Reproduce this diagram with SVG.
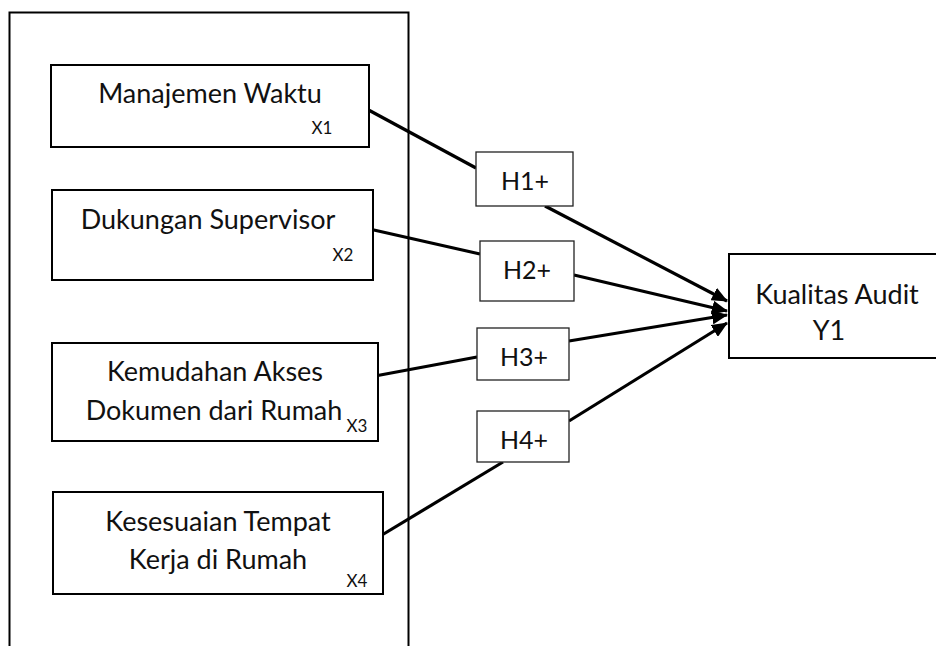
<svg xmlns="http://www.w3.org/2000/svg" width="936" height="646" viewBox="0 0 936 646">
<style>
.box{fill:#fff;stroke:#000;stroke-width:2}
.hbox{fill:#fff;stroke:#222;stroke-width:1.3}
.t{font-family:Lato,"Open Sans","Liberation Sans",sans-serif;font-size:27px;fill:#111;text-anchor:middle}
.h{font-family:Lato,"Open Sans","Liberation Sans",sans-serif;font-size:25px;fill:#111;text-anchor:middle}
.s{font-family:Lato,"Open Sans","Liberation Sans",sans-serif;font-size:17px;fill:#111;text-anchor:middle}
.c{stroke:#000;stroke-width:3.2;fill:none}
</style>
<defs>
<marker id="ah" markerUnits="userSpaceOnUse" markerWidth="16" markerHeight="14" refX="15" refY="7" orient="auto">
<path d="M0,0 L16,7 L0,14 Z" fill="#000"/>
</marker>
</defs>
<rect x="9.5" y="12.5" width="399" height="660" fill="none" stroke="#000" stroke-width="2"/>
<g id="connectors">
<line class="c" x1="363" y1="107" x2="476" y2="168"/>
<line class="c" x1="545" y1="206" x2="727" y2="301" marker-end="url(#ah)"/>
<line class="c" x1="365" y1="228" x2="480" y2="254"/>
<line class="c" x1="574" y1="275" x2="727" y2="311" marker-end="url(#ah)"/>
<line class="c" x1="375" y1="376" x2="477" y2="357"/>
<line class="c" x1="569" y1="341" x2="727" y2="315" marker-end="url(#ah)"/>
<line class="c" x1="377" y1="538" x2="503" y2="462"/>
<line class="c" x1="569" y1="421" x2="727" y2="323" marker-end="url(#ah)"/>
</g>
<g id="x1">
<rect class="box" x="51" y="65" width="318" height="82"/>
<text class="t" x="210" y="103">Manajemen Waktu</text>
<text class="s" x="322" y="134">X1</text>
</g>
<g id="x2">
<rect class="box" x="52" y="190" width="321" height="90"/>
<text class="t" x="208" y="229">Dukungan Supervisor</text>
<text class="s" x="343" y="261">X2</text>
</g>
<g id="x3">
<rect class="box" x="52" y="343" width="326" height="98"/>
<text class="t" x="215" y="381">Kemudahan Akses</text>
<text class="t" x="214" y="420">Dokumen dari Rumah</text>
<text class="s" x="357" y="432">X3</text>
</g>
<g id="x4">
<rect class="box" x="53" y="492" width="330" height="102"/>
<text class="t" x="218" y="531">Kesesuaian Tempat</text>
<text class="t" x="218" y="569">Kerja di Rumah</text>
<text class="s" x="357" y="587">X4</text>
</g>
<g id="h1">
<rect class="hbox" x="476" y="152" width="97" height="54"/>
<text class="h" x="525" y="190">H1+</text>
</g>
<g id="h2">
<rect class="hbox" x="480" y="241" width="94" height="60"/>
<text class="h" x="527" y="279">H2+</text>
</g>
<g id="h3">
<rect class="hbox" x="477" y="328" width="92" height="52"/>
<text class="h" x="524" y="366">H3+</text>
</g>
<g id="h4">
<rect class="hbox" x="477" y="411" width="92" height="51"/>
<text class="h" x="524" y="449">H4+</text>
</g>
<g id="y1">
<rect class="box" x="729" y="254" width="220" height="104"/>
<text class="t" x="837" y="304">Kualitas Audit</text>
<text class="t" x="829" y="340">Y1</text>
</g>
</svg>
